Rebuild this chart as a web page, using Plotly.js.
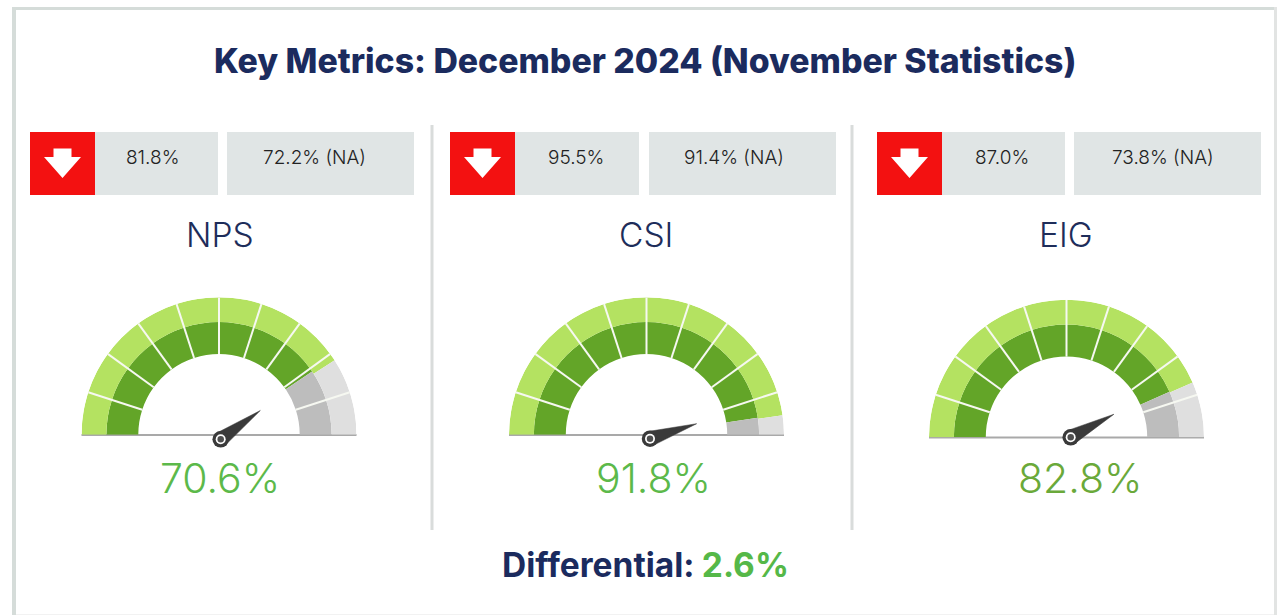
<!DOCTYPE html>
<html><head><meta charset="utf-8">
<script src="https://cdn.plot.ly/plotly-3.0.1.min.js"></script>
<style>html,body{margin:0;padding:0;background:#fff;overflow:hidden}#c{width:1277px;height:615px}</style>
</head><body><div id="c"></div>
<script>
const metricNames = ['NPS', 'CSI', 'EIG'];
const gaugeReadings = ['70.6%', '91.8%', '82.8%'];
const priorValues = ['81.8%', '95.5%', '87.0%'];
const naValues = ['72.2% (NA)', '91.4% (NA)', '73.8% (NA)'];
const outerFill = [81.8, 95.5, 87.0];
const innerFill = [81.0, 95.2, 86.8];
const needleValues = [80.0, 90.1, 84.4];
const readingColors = ['#5cb94a', '#5cb94a', '#6aa93a'];

const W = 1277, H = 615;
const fx = p => p / W, fy = p => 1 - p / H;
const centers = [[219, 434.7], [646.5, 434.7], [1066.5, 437.2]];
const hubs = [[220.7, 439.3], [650, 438.7], [1070.7, 437.3]];
const R = 137.5;
const ringIn = 58.7, ringMid = 81.9, ringOut = 100;
const C = {lg:'#b4e261', dg:'#63a528', lgr:'#dfdfdf', dgr:'#bdbdbd'};
const deciles = [0,10,20,30,40,50,60,70,80,90];
const pctDeg = p => p * 1.8;

const traces = [], layout = {
  width: W, height: H, margin: {l:0,r:0,t:0,b:0}, showlegend: false,
  paper_bgcolor: '#fff', plot_bgcolor: 'rgba(0,0,0,0)', font: {family: 'Inter, sans-serif', color: '#1e2d5a'},
  xaxis: {range:[0,W], domain:[0,1], visible:false, fixedrange:true},
  yaxis: {range:[H,0], domain:[0,1], visible:false, fixedrange:true},
  shapes: [], annotations: []
};
const px = (x0,y0,x1,y1,color) => layout.shapes.push({type:'rect',xref:'paper',yref:'paper',x0:fx(x0),x1:fx(x1),y0:fy(y0),y1:fy(y1),fillcolor:color,line:{width:0},layer:'below'});
const txt = (x,y,text,size,color,weight,extra={}) => layout.annotations.push(Object.assign({xref:'paper',yref:'paper',x:fx(x),y:fy(y),text,showarrow:false,xanchor:'center',yanchor:'middle',font:{size,color,family:'Inter, sans-serif',weight}},extra));

// frame
px(12,7,1277,10,'#d5dcd9');
px(12,7,16,615,'#d5dcd9');
px(1274,7,1277,615,'#e2e4e3');
px(16,614,1274,615,'#f2f2f2');
px(430.5,125,433.5,530,'#d9dcdb');
px(850.5,125,853.5,530,'#d9dcdb');

// header rows
const boxes = [
  {red:30, a:[95,218], b:[227,414], ta:152.5, tb:314.5, tn:220},
  {red:450, a:[515,639], b:[649,836], ta:576, tb:734, tn:645.5},
  {red:877, a:[942,1065], b:[1074,1261], ta:1002, tb:1163, tn:1066}
];
const readingX = [220, 653.5, 1079.5];
boxes.forEach((b,i) => {
  px(b.a[0]-65,132,b.a[1],195,'#e0e5e5');
  px(b.b[0],132,b.b[1],195,'#e0e5e5');
  px(b.red,132,b.red+65,195,'#f31111');
  const ax = b.red + 32.5;
  layout.shapes.push({type:'path',xref:'paper',yref:'paper',fillcolor:'#fff',line:{width:0},
    path:`M ${fx(ax-9)} ${fy(148.5)} L ${fx(ax+9)} ${fy(148.5)} L ${fx(ax+9)} ${fy(157)} L ${fx(ax+18.5)} ${fy(157)} L ${fx(ax)} ${fy(178)} L ${fx(ax-18.5)} ${fy(157)} L ${fx(ax-9)} ${fy(157)} Z`});
  txt(b.ta,158,priorValues[i],19,'#222222',300);
  txt(b.tb,158,naValues[i],19,'#222222',300);
  txt(b.tn,235,metricNames[i],33.5,'#1e2d5a',300);
  txt(readingX[i],478,gaugeReadings[i],41,readingColors[i],300);
});

txt(645,61,'Key Metrics: December 2024 (November Statistics)',33.8,'#1b2b5e',800);
txt(500,565,'<b>Differential:</b> <b style="color:#55b848">2.6%</b>',33.5,'#1b2b5e',800,{xanchor:'left'});

// gauges
centers.forEach((c,i) => {
  const sub = i === 0 ? 'polar' : 'polar' + (i+1);
  const rings = [
    {base:ringIn, h:ringMid-ringIn, fill:innerFill[i], on:C.dg, off:C.dgr},
    {base:ringMid, h:ringOut-ringMid, fill:outerFill[i], on:C.lg, off:C.lgr}
  ];
  rings.forEach(rg => {
    const th=[], wd=[], col=[];
    deciles.forEach(d => {
      const e = d + 10;
      if (rg.fill >= e) { th.push(pctDeg(d+5)); wd.push(18); col.push(rg.on); }
      else if (rg.fill <= d) { th.push(pctDeg(d+5)); wd.push(18); col.push(rg.off); }
      else {
        th.push(pctDeg((d+rg.fill)/2)); wd.push(pctDeg(rg.fill-d)); col.push(rg.on);
        th.push(pctDeg((rg.fill+e)/2)); wd.push(pctDeg(e-rg.fill)); col.push(rg.off);
      }
    });
    traces.push({type:'barpolar',subplot:sub,r:th.map(()=>rg.h),base:th.map(()=>rg.base),theta:th,width:wd,
      marker:{color:col,line:{width:0}},hoverinfo:'skip'});
  });
  // white dividers at decile boundaries
  deciles.slice(1).forEach(d => traces.push({type:'scatterpolar',subplot:sub,mode:'lines',r:[ringIn,ringOut],theta:[pctDeg(d),pctDeg(d)],
    line:{color:'#f6f8f1',width:2},hoverinfo:'skip',cliponaxis:false}));
  layout[sub] = {
    domain:{x:[fx(c[0]-R),fx(c[0]+R)],y:[fy(c[1]),fy(c[1]-R)]},
    sector:[0,180], bgcolor:'rgba(0,0,0,0)', barmode:'overlay',
    radialaxis:{range:[0,100],visible:false},
    angularaxis:{visible:false,direction:'clockwise',rotation:180,thetaunit:'degrees'}
  };
  // baseline, needle and hub on the page-wide pixel axes
  traces.push({type:'scatter',xaxis:'x',yaxis:'y',mode:'lines',x:[c[0]-R,c[0]+R],y:[c[1]+0.3,c[1]+0.3],line:{color:'#a9a9a9',width:2},hoverinfo:'skip'});
  const h = hubs[i], q = pctDeg(needleValues[i])*Math.PI/180;
  const dx = -Math.cos(q), dy = -Math.sin(q), hw = 7.5, len = 49;
  traces.push({type:'scatter',xaxis:'x',yaxis:'y',mode:'lines',fill:'toself',fillcolor:'#3a3a3a',line:{color:'#3a3a3a',width:0.5},hoverinfo:'skip',
    x:[h[0]+dx*len, h[0]-dy*hw, h[0]+dy*hw, h[0]+dx*len],
    y:[h[1]+dy*len, h[1]+dx*hw, h[1]-dx*hw, h[1]+dy*len]});
  [[16.5,'#3a3a3a'],[10,'#ffffff'],[6.5,'#4f4f4f']].forEach(m =>
    traces.push({type:'scatter',xaxis:'x',yaxis:'y',mode:'markers',x:[h[0]],y:[h[1]],marker:{size:m[0],color:m[1],line:{width:0}},hoverinfo:'skip'}));
});
Plotly.newPlot('c',traces,layout,{displayModeBar:false,staticPlot:true});
</script></body></html>
